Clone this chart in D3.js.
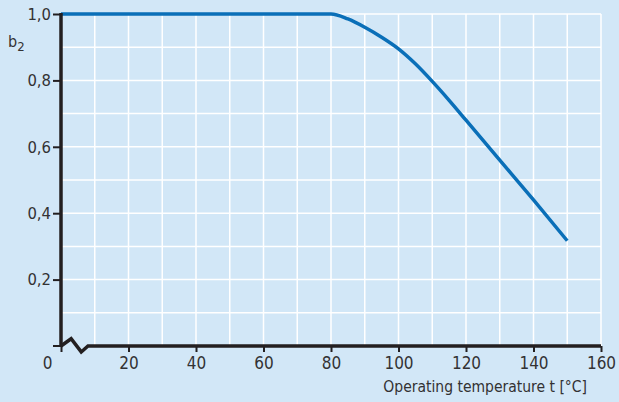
<!DOCTYPE html>
<html>
<head>
<meta charset="utf-8">
<script src="https://cdn.jsdelivr.net/npm/d3@7"></script>
<style>
  html, body { margin: 0; padding: 0; background: #d2e7f7; }
  svg { display: block; }
  text { font-family: "DejaVu Sans Condensed", "DejaVu Sans", sans-serif; fill: #333233; }
</style>
</head>
<body>
<div id="chart"></div>
<script>
// Données : facteur b2 selon la température
const temps = [0, 80, 85, 90, 95, 100, 105, 110, 115, 120, 130, 140, 150];
const b2Values = [1.0, 1.0, 0.985, 0.96, 0.93, 0.895, 0.85, 0.797, 0.74, 0.68, 0.56, 0.44, 0.317];
const xTicks = [0, 20, 40, 60, 80, 100, 120, 140, 160];
const yTicks = [0.2, 0.4, 0.6, 0.8, 1.0];
const xGrid = [10, 20, 30, 40, 50, 60, 70, 80, 90, 100, 110, 120, 130, 140, 150, 160];
const yGrid = [0.1, 0.2, 0.3, 0.4, 0.5, 0.6, 0.7, 0.8, 0.9, 1.0];

const W = 619, H = 402;
const margin = { top: 14, right: 18, bottom: 56, left: 61 };
const width = W - margin.left - margin.right;
const height = H - margin.top - margin.bottom;

const svg = d3.select("#chart").append("svg")
    .attr("width", W)
    .attr("height", H);

svg.append("rect").attr("width", W).attr("height", H).attr("fill", "#d2e7f7");

const g = svg.append("g").attr("transform", `translate(${margin.left},${margin.top})`);

const x = d3.scaleLinear().domain([0, 160]).range([0, width]);
const y = d3.scaleLinear().domain([0, 1]).range([height, 0]);

// Grille blanche
g.append("g").selectAll("line").data(xGrid).enter().append("line")
    .attr("x1", d => x(d)).attr("x2", d => x(d))
    .attr("y1", y(0)).attr("y2", y(1))
    .attr("stroke", "#ffffff").attr("stroke-width", 1.5);

g.append("g").selectAll("line").data(yGrid).enter().append("line")
    .attr("x1", x(0)).attr("x2", x(160))
    .attr("y1", d => y(d)).attr("y2", d => y(d))
    .attr("stroke", "#ffffff").attr("stroke-width", 1.5);

// Courbe
const line = d3.line()
    .x((d, i) => x(temps[i]))
    .y(d => y(d))
    .curve(d3.curveMonotoneX);

g.append("path")
    .datum(b2Values)
    .attr("d", line)
    .attr("fill", "none")
    .attr("stroke", "#0a6fb8")
    .attr("stroke-width", 3.5);

// Axe Y
const axisColor = "#231f20";
const yAxis = g.append("g")
    .call(d3.axisLeft(y).tickValues(yTicks).tickSize(8).tickPadding(2)
        .tickFormat(d => d3.format(".1f")(d).replace(".", ",")));
yAxis.select(".domain").remove();
yAxis.selectAll("line").attr("stroke", axisColor).attr("stroke-width", 2);
yAxis.selectAll("text").attr("font-size", 16.5).style("fill", "#333233");

// tick du 0 sur l'axe Y
g.append("line")
    .attr("x1", -8).attr("x2", 0)
    .attr("y1", y(0)).attr("y2", y(0))
    .attr("stroke", axisColor).attr("stroke-width", 2);

g.append("line")
    .attr("x1", 0).attr("x2", 0)
    .attr("y1", y(1) - 1).attr("y2", y(0) + 1)
    .attr("stroke", axisColor).attr("stroke-width", 3.5);

// Axe X
const xAxis = g.append("g")
    .attr("transform", `translate(0,${height})`)
    .call(d3.axisBottom(x).tickValues(xTicks).tickSize(6).tickPadding(5));
xAxis.select(".domain").remove();
xAxis.selectAll("line").attr("stroke", axisColor).attr("stroke-width", 2);
xAxis.selectAll("text").attr("font-size", 17).style("fill", "#333233");
// le "0" est décalé à gauche de la coupure
xAxis.selectAll(".tick").filter(d => d === 0).select("text").attr("x", -14);

// Ligne de l'axe X avec coupure en zigzag
const breakPts = [[0, 0], [3, -2.2], [6, 1.8], [8, 0], [160, 0]];
g.append("path")
    .attr("d", d3.line().x(d => x(d[0])).y(d => y(0) + d[1] * 3.3)(breakPts))
    .attr("fill", "none")
    .attr("stroke", axisColor)
    .attr("stroke-width", 3.5)
    .attr("stroke-linejoin", "miter");

// Titres
svg.append("text")
    .attr("x", 8).attr("y", 47)
    .attr("font-size", 16)
    .html('b<tspan dy="4" font-size="13">2</tspan>');

svg.append("text")
    .attr("x", 587).attr("y", 392)
    .attr("text-anchor", "end")
    .attr("font-size", 15.5)
    .text("Operating temperature t [°C]");
</script>
</body>
</html>
